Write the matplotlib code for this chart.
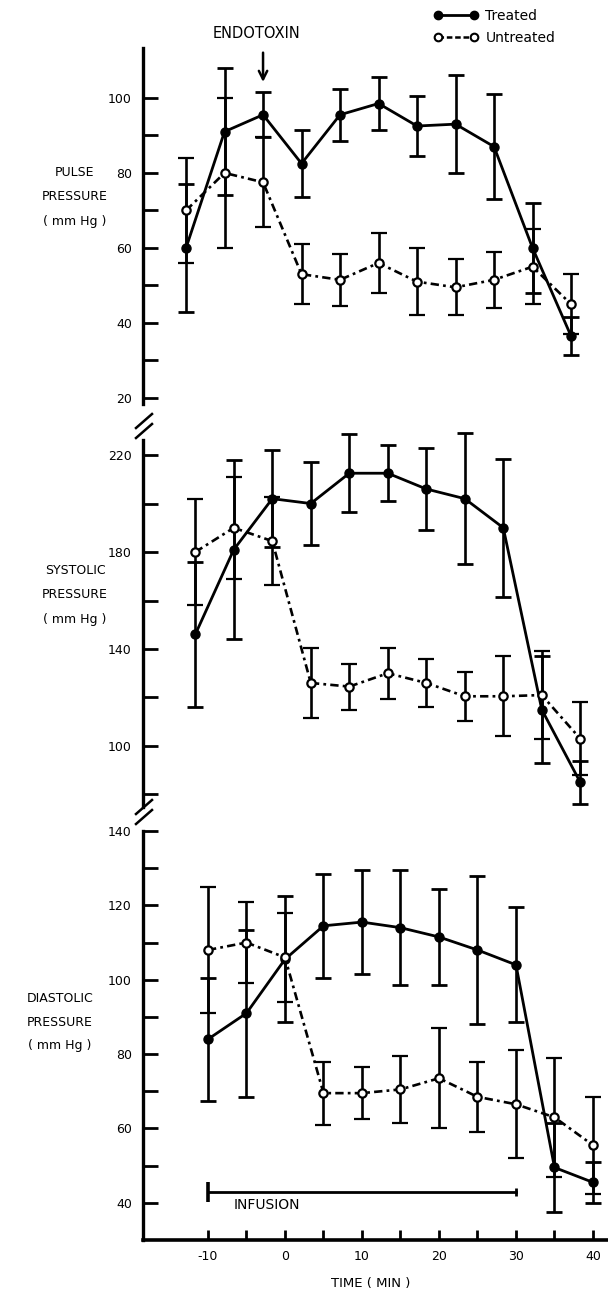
import matplotlib
matplotlib.use("Agg")
import matplotlib.pyplot as plt
from matplotlib.lines import Line2D
from matplotlib.ticker import FixedLocator

plt.rcParams['font.family'] = ['DejaVu Sans']
plt.rcParams['lines.scale_dashes'] = False
plt.rcParams['axes.unicode_minus'] = False

# ---------------- data ----------------
time = [-10, -5, 0, 5, 10, 15, 20, 25, 30, 35, 40]

pulse_treated = [60, 91, 95.5, 82.5, 95.5, 98.5, 92.5, 93, 87, 60, 36.5]
pulse_treated_err = [17, 17, 6, 9, 7, 7, 8, 13, 14, 12, 5]
pulse_untreated = [70, 80, 77.5, 53, 51.5, 56, 51, 49.5, 51.5, 55, 45]
pulse_untreated_err = [14, 20, 12, 8, 7, 8, 9, 7.5, 7.5, 10, 8]

systolic_treated = [146, 181, 202, 200, 212.5, 212.5, 206, 202, 190, 115, 85]
systolic_treated_err = [30, 37, 20, 17, 16, 11.5, 17, 27, 28.5, 22, 9]
systolic_untreated = [180, 190, 184.5, 126, 124.5, 130, 126, 120.5, 120.5, 121, 103]
systolic_untreated_err = [22, 21, 18, 14.5, 9.5, 10.5, 10, 10, 16.5, 18, 15]

diastolic_treated = [84, 91, 105.5, 114.5, 115.5, 114, 111.5, 108, 104, 49.5, 45.5]
diastolic_treated_err = [16.5, 22.5, 17, 14, 14, 15.5, 13, 20, 15.5, 12, 5.5]
diastolic_untreated = [108, 110, 106, 69.5, 69.5, 70.5, 73.5, 68.5, 66.5, 63, 55.5]
diastolic_untreated_err = [17, 11, 12, 8.5, 7, 9, 13.5, 9.5, 14.5, 16, 13]

pulse_ticks = [20, 40, 60, 80, 100]
pulse_minor = [30, 50, 70, 90]
systolic_ticks = [100, 140, 180, 220]
systolic_minor = [80, 120, 160, 200]
diastolic_ticks = [40, 60, 80, 100, 120, 140]
diastolic_minor = [50, 70, 90, 110, 130]
time_ticks = [-10, 0, 10, 20, 30, 40]
time_minor = [-5, 5, 15, 25, 35]

endotoxin_time = 0
infusion_start, infusion_end = -10, 30

# ---------------- layout ----------------
W, H = 608, 1297
fig = plt.figure(figsize=(W / 100, H / 100), dpi=100)


def rect(x0, x1, ytop, ybot):
    return [x0 / W, 1 - ybot / H, (x1 - x0) / W, (ybot - ytop) / H]


ax_p = fig.add_axes(rect(143, 608, 48, 403.6))
ax_s = fig.add_axes(rect(143, 608, 440.5, 806.6))
ax_d = fig.add_axes(rect(143, 608, 831, 1240))

ax_p.set_ylim(18.5, 113.3)
ax_s.set_ylim(75, 226)
ax_d.set_ylim(30, 140)
ax_d.set_xlim(-18.44, 41.95)
ax_s.set_xlim(-18.44 + 1.65, 41.95 + 1.65)
ax_p.set_xlim(-18.44 + 2.85, 41.95 + 2.85)

dash = (0, (6, 3, 2, 3))


def draw(ax, tr, tr_err, un, un_err):
    ax.errorbar(time, tr, yerr=tr_err, color='black', lw=2.0, marker='o', ms=6.5,
                mfc='black', mec='black', elinewidth=1.9, capsize=6, capthick=2.0,
                zorder=3, clip_on=False)
    ax.errorbar(time, un, yerr=un_err, color='black', lw=1.9, ls=dash, marker='o', ms=6,
                mfc='white', mec='black', mew=1.6, elinewidth=1.9, capsize=6,
                capthick=2.0, zorder=4, clip_on=False)


draw(ax_p, pulse_treated, pulse_treated_err, pulse_untreated, pulse_untreated_err)
draw(ax_s, systolic_treated, systolic_treated_err, systolic_untreated, systolic_untreated_err)
draw(ax_d, diastolic_treated, diastolic_treated_err, diastolic_untreated, diastolic_untreated_err)

for ax, ticks, minor in ((ax_p, pulse_ticks, pulse_minor),
                         (ax_s, systolic_ticks, systolic_minor),
                         (ax_d, diastolic_ticks, diastolic_minor)):
    for side in ('top', 'right'):
        ax.spines[side].set_visible(False)
    ax.spines['left'].set_linewidth(2.4)
    ax.yaxis.set_major_locator(FixedLocator(ticks))
    ax.yaxis.set_minor_locator(FixedLocator(minor))
    ax.tick_params(axis='y', which='both', direction='in', length=11, width=2.0,
                   labelsize=9, pad=8)
    ax.patch.set_visible(False)

for ax in (ax_p, ax_s):
    ax.spines['bottom'].set_visible(False)
    ax.tick_params(axis='x', which='both', bottom=False, labelbottom=False)

ax_d.spines['bottom'].set_linewidth(2.6)
ax_d.xaxis.set_major_locator(FixedLocator(time_ticks))
ax_d.xaxis.set_minor_locator(FixedLocator(time_minor))
ax_d.tick_params(axis='x', which='both', direction='in', length=7, width=2.0,
                 labelsize=9, pad=7)

# infusion bar
ax_d.plot([infusion_start, infusion_end], [43, 43], color='black', lw=2.0)
ax_d.plot([infusion_start], [43], marker='|', ms=15, mew=2.6, color='black')
ax_d.plot([infusion_end], [43], marker='|', ms=6, mew=2.0, color='black')
ax_d.text((infusion_start + infusion_end) / 2 - 12.3, 39.5, 'INFUSION', ha='center',
          va='center', fontsize=10)

# endotoxin arrow
ax_p.annotate('', xy=(endotoxin_time, 103.5), xytext=(endotoxin_time, 112.8),
              arrowprops=dict(arrowstyle='->,head_length=0.6,head_width=0.3',
                              lw=1.8, color='black'),
              annotation_clip=False)
fig.text(257 / W, 1 - 33 / H, 'ENDOTOXIN', ha='center', va='center', fontsize=10.5)

# legend
h_tr = Line2D([], [], color='black', lw=2.0, marker='o', ms=6, mfc='black', mec='black')
h_un = Line2D([], [], color='black', lw=1.8, ls=(0, (4, 2)), marker='o', ms=5.5,
              mfc='white', mec='black', mew=1.5)
fig.legend(handles=[h_tr, h_un], labels=['Treated', 'Untreated'], loc='upper left',
           bbox_to_anchor=(434 / W, 1 - 9 / H), frameon=False, numpoints=2,
           handlelength=3.2, handletextpad=0.5, labelspacing=0.55, borderpad=0,
           borderaxespad=0, fontsize=10)

# axis titles
fs = 9
for txt, y in (('PULSE', 172), ('PRESSURE', 197), ('( mm Hg )', 222)):
    fig.text(75 / W, 1 - y / H, txt, ha='center', va='center', fontsize=fs)
for txt, y in (('SYSTOLIC', 571), ('PRESSURE', 595), ('( mm Hg )', 619)):
    fig.text(75 / W, 1 - y / H, txt, ha='center', va='center', fontsize=fs)
for txt, y in (('DIASTOLIC', 998), ('PRESSURE', 1022), ('( mm Hg )', 1046)):
    fig.text(60 / W, 1 - y / H, txt, ha='center', va='center', fontsize=fs)
fig.text(371 / W, 1 - 1283 / H, 'TIME ( MIN )', ha='center', va='center', fontsize=9.5)

# axis break marks
for yc in (426, 812):
    for dy in (-5, 5):
        fig.add_artist(Line2D([136 / W, 152 / W], [1 - (yc + dy + 7) / H, 1 - (yc + dy - 7) / H],
                              transform=fig.transFigure, color='black', lw=1.8))

fig.savefig('out.png', dpi=100)
